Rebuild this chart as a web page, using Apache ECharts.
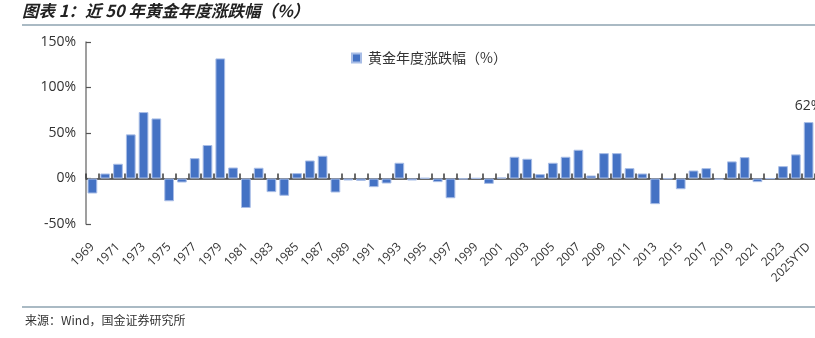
<!DOCTYPE html>
<html>
<head>
<meta charset="utf-8">
<script src="https://cdn.jsdelivr.net/npm/echarts@6/dist/echarts.min.js"></script>
<style>
html,body{margin:0;padding:0;background:#fff;}
#c{width:815px;height:338px;}
</style>
</head>
<body>
<div id="c"></div>
<script>
const years = ["1969","1970","1971","1972","1973","1974","1975","1976","1977","1978","1979","1980","1981","1982","1983","1984","1985","1986","1987","1988","1989","1990","1991","1992","1993","1994","1995","1996","1997","1998","1999","2000","2001","2002","2003","2004","2005","2006","2007","2008","2009","2010","2011","2012","2013","2014","2015","2016","2017","2018","2019","2020","2021","2022","2023","2024","2025YTD"];
const goldReturn = [-16.5,5.5,16.2,48.5,73,66,-25,-4.4,22.4,36.8,132,12.1,-32.4,11.8,-15,-19,5.9,19.8,25,-15.4,-2.2,-2.6,-9.5,-5.5,17.3,-2.2,0.5,-4,-21.7,-0.8,0.3,-5.9,1,23.9,21.7,4.8,17.3,23.9,31.6,3.3,27.9,27.9,11.4,5.5,-28.2,-0.5,-11.8,8.8,11.4,-1.5,18.8,23.5,-4,-0.3,13.6,26.5,62];
const yTicks = {min:-50, max:150, interval:50};
const seriesName = "黄金年度涨跌幅（%）";
const titleText = "图表 1：近 50 年黄金年度涨跌幅（%）";
const sourceText = "来源：Wind，国金证券研究所";

const chart = echarts.init(document.getElementById('c'), null, {renderer:'canvas'});
const fontFam = "'Open Sans','Noto Sans CJK SC',sans-serif";
const barData = goldReturn.map((v,i)=> i===goldReturn.length-1 ? {value:v,label:{show:true,position:'top',distance:9,formatter:'{c}%',fontSize:14,color:'#333',fontFamily:fontFam}} : v);

chart.setOption({
  animation:false,
  backgroundColor:'#fff',
  grid:{left:86,right:0,top:42,bottom:114,containLabel:false},
  legend:{
    data:[seriesName], left:346, top:46, icon:'rect', itemWidth:9, itemHeight:9, itemGap:6,
    textStyle:{fontSize:14,color:'#333',fontFamily:"'Noto Sans CJK SC',sans-serif",padding:[0,0,0,2]}
  },
  xAxis:[{
    type:'category', data:years, position:'bottom',
    axisLine:{onZero:true, lineStyle:{color:'#3a3a3a',width:1.5}},
    axisTick:{show:true, inside:true, length:5, interval:0, lineStyle:{color:'#3a3a3a',width:1.5}},
    axisLabel:{show:false}, splitLine:{show:false}
  },{
    type:'category', data:years, position:'bottom',
    axisLine:{show:false, onZero:false}, axisTick:{show:false},
    axisLabel:{show:true, interval:1, rotate:45, margin:21, fontSize:12, color:'#333', fontFamily:fontFam},
    splitLine:{show:false}
  }],
  yAxis:{
    type:'value', min:yTicks.min, max:yTicks.max, interval:yTicks.interval,
    axisLine:{show:true, lineStyle:{color:'#7f7f7f',width:1.5}},
    axisTick:{show:true, inside:true, length:5, lineStyle:{color:'#555',width:1.2}},
    axisLabel:{formatter:'{value}%', fontSize:14, color:'#333', margin:10, fontFamily:fontFam},
    splitLine:{show:false}
  },
  series:[{
    name:seriesName, type:'bar', data:barData, xAxisIndex:0,
    barCategoryGap:'24%',
    itemStyle:{color:'#4472C4', borderColor:'#a8bde6', borderWidth:1}
  }],
  graphic:[
    {type:'text', left:22, top:2, style:{text:titleText, font:"italic bold 16.5px 'Noto Sans CJK SC',sans-serif", fill:'#222'}},
    {type:'line', shape:{x1:22,y1:25,x2:815,y2:25}, style:{stroke:'#8ea3b0',lineWidth:1.5}},
    {type:'line', shape:{x1:22,y1:307,x2:815,y2:307}, style:{stroke:'#8ea3b0',lineWidth:1.5}},
    {type:'text', left:25, top:314, style:{text:sourceText, font:"12px 'Noto Sans CJK SC',sans-serif", fill:'#333'}}
  ]
});
</script>
</body>
</html>
